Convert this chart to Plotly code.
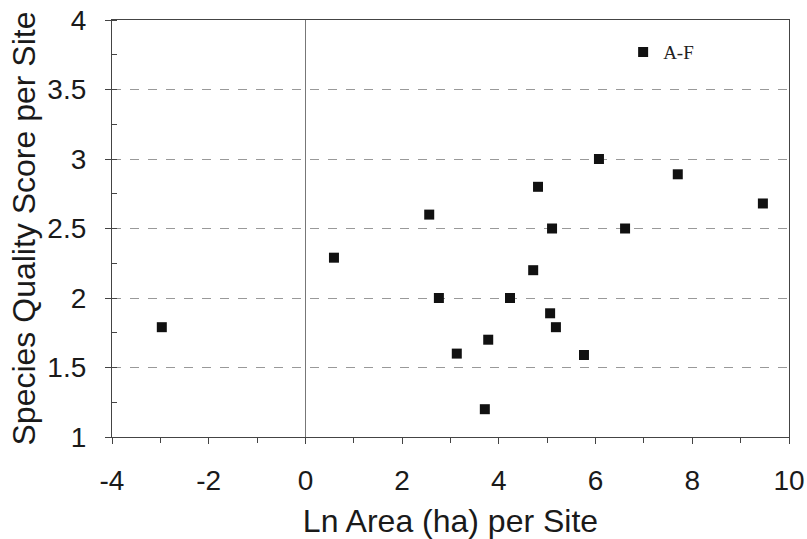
import plotly.graph_objects as go

# Data
ln_area = [-2.97, 0.59, 2.56, 2.76, 3.13, 3.71, 3.78, 4.23, 4.71, 4.81,
           5.06, 5.10, 5.18, 5.76, 6.07, 6.61, 7.70, 9.46]
quality = [1.79, 2.29, 2.60, 2.00, 1.60, 1.20, 1.70, 2.00, 2.20, 2.80,
           1.89, 2.50, 1.79, 1.59, 3.00, 2.50, 2.89, 2.68]
series_name = "A-F"
x_ticks = [-4, -2, 0, 2, 4, 6, 8, 10]
y_ticks = [1, 1.5, 2, 2.5, 3, 3.5, 4]
y_tick_text = ["1", "1.5", "2", "2.5", "3", "3.5", "4"]

fig = go.Figure()
fig.add_trace(go.Scatter(
    x=ln_area, y=quality, mode="markers", name=series_name,
    marker=dict(symbol="square", size=10, color="#111111",
                line=dict(width=0)),
    showlegend=True,
))

tick_font = dict(family="Liberation Sans, Arial, sans-serif", size=28, color="#1a1a1a")
title_font = dict(family="Liberation Sans, Arial, sans-serif", size=32, color="#1a1a1a")

fig.update_layout(
    width=807, height=539,
    margin=dict(l=112, r=18, t=20, b=102),
    paper_bgcolor="white", plot_bgcolor="white",
    showlegend=True,
    legend=dict(x=0.755, y=0.923, xanchor="left", yanchor="middle",
                bgcolor="rgba(0,0,0,0)",
                font=dict(family="Liberation Serif, Times New Roman, serif", size=19, color="#222222"),
                itemwidth=30),
    xaxis=dict(
        range=[-4, 10], tickvals=x_ticks, ticktext=[str(v) for v in x_ticks],
        automargin=False,
        showgrid=False, zeroline=True, zerolinecolor="#777777", zerolinewidth=1,
        showline=True, linecolor="#444444", linewidth=1.2, mirror=True,
        ticks="outside", ticklen=6, tickcolor="#444444",
        ticklabelstandoff=12,
        minor=dict(dtick=1, ticks="outside", ticklen=5, tickcolor="#444444"),
        tickfont=tick_font,
        title=dict(text="Ln Area (ha) per Site", font=title_font, standoff=21),
    ),
    yaxis=dict(
        range=[1, 4], tickvals=y_ticks, ticktext=y_tick_text,
        automargin=False,
        showgrid=True, gridcolor="#999999", gridwidth=1, griddash="dash",
        zeroline=False,
        showline=True, linecolor="#444444", linewidth=1.2, mirror=True,
        ticks="outside", ticklen=6, tickcolor="#444444",
        ticklabelstandoff=13,
        minor=dict(dtick=0.25, ticks="inside", ticklen=5, tickcolor="#444444", showgrid=False),
        tickfont=tick_font,
        title=dict(text="Species Quality Score per Site", font=title_font, standoff=2),
    ),
)

fig.write_html("out.html",
               config={"displayModeBar": False},
               post_script="document.body.style.margin='0';document.body.style.overflow='hidden';")
